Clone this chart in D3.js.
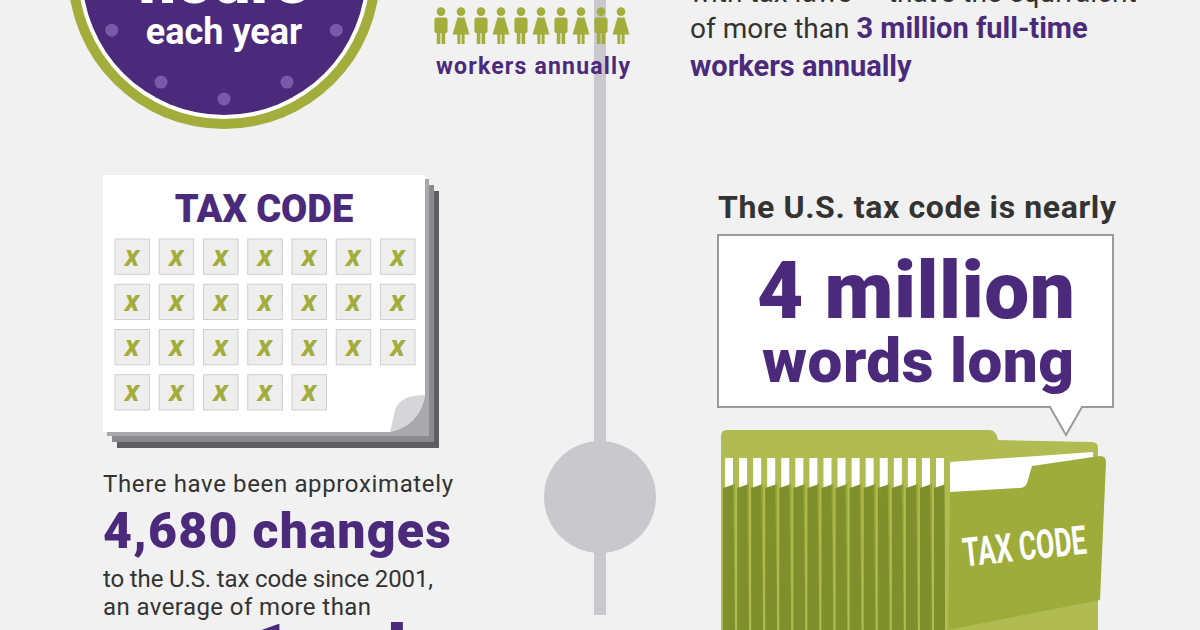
<!DOCTYPE html>
<head>
<meta charset="utf-8">
<title>Tax Code Infographic</title>
<style>
  body { margin: 0; background: #f1f1f1; }
  svg { display: block; }
  text { font-family: Roboto, "Liberation Sans", sans-serif; }
</style>
<script src="https://cdn.jsdelivr.net/npm/d3@7"></script>
</head>
<body>
<script>
// values
var peopleKinds = ["m", "f", "m", "f", "m", "f", "m", "f", "m", "f"];
var checkRows = [7, 7, 7, 5];
var folderCount = 16;
var leftLines = ["There have been approximately", "4,680 changes", "to the U.S. tax code since 2001,", "an average of more than"];
var bubbleLines = ["4 million", "words long"];
var dotAngles = [27, 60, 90, 120, 153];

var purple = "#4b2a7b", green = "#a2ad3c", grey = "#c9c9cd", ink = "#333";
var W = 1200, H = 630;

var svg = d3.select("body").append("svg").attr("width", W).attr("height", H);
svg.append("rect").attr("width", W).attr("height", H).attr("fill", "#f1f1f1");

// ---- centre timeline
svg.append("rect").attr("x", 594).attr("y", 0).attr("width", 12).attr("height", 450).attr("fill", grey);
svg.append("rect").attr("x", 594).attr("y", 540).attr("width", 12).attr("height", 75).attr("fill", grey);
svg.append("circle").attr("cx", 600).attr("cy", 497).attr("r", 56).attr("fill", grey);

// ---- clock badge
var badge = svg.append("g").attr("transform", "translate(224,-27)");
badge.append("circle").attr("r", 156).attr("fill", green);
badge.append("circle").attr("r", 146).attr("fill", "#fff");
badge.append("circle").attr("r", 142).attr("fill", purple);
badge.selectAll("circle.dot").data(dotAngles).enter().append("circle")
  .attr("class", "dot").attr("r", 6.5).attr("fill", "#7a5aa8")
  .attr("cx", function (a) { return 126 * Math.cos(a * Math.PI / 180); })
  .attr("cy", function (a) { return 126 * Math.sin(a * Math.PI / 180); });
badge.append("text").attr("y", 30).attr("text-anchor", "middle").attr("fill", "#fff")
  .attr("font-size", 66).attr("font-weight", 900).text("hours");
badge.append("text").attr("y", 71).attr("text-anchor", "middle").attr("fill", "#fff")
  .attr("font-size", 36).attr("font-weight", 700).text("each year");

// ---- people icons
var px = d3.scaleBand().domain(d3.range(peopleKinds.length)).range([431, 631]);
function person(g, kind) {
  g.append("circle").attr("cx", 0).attr("cy", 3).attr("r", 3.6).attr("fill", green);
  if (kind === "m") {
    g.append("rect").attr("x", -5.5).attr("y", 8).attr("width", 11).attr("height", 13).attr("rx", 2).attr("fill", green);
    g.append("rect").attr("x", -3.5).attr("y", 19).attr("width", 3).attr("height", 11).attr("fill", green);
    g.append("rect").attr("x", 0.5).attr("y", 19).attr("width", 3).attr("height", 11).attr("fill", green);
  } else {
    g.append("path").attr("d", "M-3,8 L3,8 L7,22 L-7,22 Z").attr("fill", green);
    g.append("rect").attr("x", -3).attr("y", 21).attr("width", 2.5).attr("height", 9).attr("fill", green);
    g.append("rect").attr("x", 0.5).attr("y", 21).attr("width", 2.5).attr("height", 9).attr("fill", green);
  }
}
[-40, 8].forEach(function (top) {
  peopleKinds.forEach(function (k, i) {
    person(svg.append("g").attr("transform", "translate(" + (px(i) + px.bandwidth() / 2) + "," + top + ") scale(1.2)"), k);
  });
});
svg.append("text").attr("x", 533).attr("y", 74).attr("text-anchor", "middle").attr("fill", purple)
  .attr("font-size", 23).attr("font-weight", 700).attr("textLength", 194).text("workers annually");

// ---- top-right copy
var tr = svg.append("text").attr("x", 690).attr("font-size", 28).attr("fill", ink);
tr.append("tspan").attr("x", 690).attr("y", 2).text("with tax laws \u2014 that\u2019s the equivalent");
var l2 = tr.append("tspan").attr("x", 690).attr("y", 38);
l2.append("tspan").text("of more than ");
l2.append("tspan").attr("fill", purple).attr("font-weight", 700).attr("font-size", 29).text("3 million full-time");
tr.append("tspan").attr("x", 690).attr("y", 76).attr("fill", purple).attr("font-weight", 700).attr("font-size", 29).text("workers annually");

// ---- tax code document
var doc = svg.append("g");
[["#5e5e62", 14, 16], ["#8a8a8e", 9, 10], ["#a9a9ad", 4, 4]].forEach(function (s) {
  doc.append("rect").attr("x", 103 + s[1]).attr("y", 175 + s[2]).attr("width", 322).attr("height", 257).attr("fill", s[0]);
});
doc.append("path").attr("d", "M103,175 L425,175 L425,395 Q420,425 390,432 L103,432 Z").attr("fill", "#fff");
doc.append("path").attr("d", "M425,395 Q400,395 395,410 Q392,425 390,432 Q420,425 425,395 Z").attr("fill", "#d6d6d8");
doc.append("text").attr("x", 264).attr("y", 222).attr("text-anchor", "middle").attr("fill", purple)
  .attr("font-size", 38).attr("font-weight", 900).text("TAX CODE");
var cx = d3.scaleBand().domain(d3.range(7)).range([115, 415]).paddingInner(0.22);
var cy = d3.scaleBand().domain(d3.range(checkRows.length)).range([239, 410]).paddingInner(0.22);
checkRows.forEach(function (n, r) {
  d3.range(n).forEach(function (c) {
    doc.append("rect").attr("x", cx(c)).attr("y", cy(r)).attr("width", cx.bandwidth()).attr("height", cy.bandwidth())
      .attr("fill", "#eeeeee").attr("stroke", "#cfcfcf");
    doc.append("text").attr("x", cx(c) + cx.bandwidth() / 2).attr("y", cy(r) + cy.bandwidth() / 2 + 9)
      .attr("text-anchor", "middle").attr("fill", green).attr("font-size", 30)
      .attr("font-style", "italic").attr("font-weight", 700).attr("font-family", "'DejaVu Serif', serif").text("x");
  });
});

// ---- bottom-left copy
var ly = [492, 548, 587, 615];
var lw = [350, 348, 330, 268];
leftLines.forEach(function (t, i) {
  svg.append("text").attr("x", 103).attr("y", ly[i]).text(t)
    .attr("fill", i === 1 ? purple : ink)
    .attr("font-size", i === 1 ? 50 : 24)
    .attr("font-weight", i === 1 ? 900 : 400)
    .attr("textLength", lw[i]);
});
svg.append("text").attr("x", 250).attr("y", 676).attr("fill", purple).attr("font-size", 72).attr("font-weight", 900).text("1 a day");

// ---- right: bubble
svg.append("text").attr("x", 917).attr("y", 218).attr("text-anchor", "middle").attr("fill", ink)
  .attr("font-size", 32).attr("font-weight", 700).attr("textLength", 398).text("The U.S. tax code is nearly");
svg.append("path").attr("d", "M718,235 L1113,235 L1113,407 L1082,407 L1066,435 L1050,407 L718,407 Z")
  .attr("fill", "#fff").attr("stroke", "#9a9a9a").attr("stroke-width", 2);
svg.append("text").attr("x", 916).attr("y", 318).attr("text-anchor", "middle").attr("fill", purple)
  .attr("font-size", 80).attr("font-weight", 900).attr("textLength", 318).text(bubbleLines[0]);
svg.append("text").attr("x", 918).attr("y", 382).attr("text-anchor", "middle").attr("fill", purple)
  .attr("font-size", 62).attr("font-weight", 900).attr("textLength", 312).text(bubbleLines[1]);

// ---- folders
var fx = d3.scaleLinear().domain([0, folderCount - 1]).range([721, 932]);
var folders = svg.append("g");
d3.range(folderCount).forEach(function (i) {
  var x = fx(i);
  var g = folders.append("g").attr("transform", "translate(" + x + ",0)");
  g.append("path").attr("d", "M0,436 Q0,430 6,430 L26,430 Q30,430 30,436 L30,630 L0,630 Z").attr("fill", "#b0bc52");
  g.append("rect").attr("x", 4).attr("y", 458).attr("width", 8).attr("height", 30).attr("fill", "#fff");
  g.append("path").attr("d", "M2,488 L14,484 L16,630 L2,630 Z").attr("fill", "#7f8f2c");
  g.append("path").attr("d", "M12,484 L30,480 L30,630 L14,630 Z").attr("fill", "#98a738");
});
// front folder
folders.append("path").attr("d", "M945,436 Q945,430 951,430 L990,430 Q996,430 998,440 L1092,442 Q1098,442 1098,448 L1098,630 L945,630 Z")
  .attr("fill", "#b0bc52");
folders.append("path").attr("d", "M950,462 L1093,452 L1093,490 L950,500 Z").attr("fill", "#fff");
folders.append("path").attr("d", "M950,492 L1020,488 Q1026,488 1028,480 L1032,466 L1100,456 Q1106,456 1106,462 L1100,600 L948,630 Z")
  .attr("fill", "#9eac3b");
folders.append("text").attr("transform", "translate(1026,560) rotate(-6)").attr("text-anchor", "middle")
  .attr("fill", "#fff").attr("font-size", 40).attr("font-weight", 700)
  .attr("font-family", "'Liberation Sans Narrow', 'Roboto Condensed', 'Liberation Sans', sans-serif")
  .attr("textLength", 124).attr("lengthAdjust", "spacingAndGlyphs").text("TAX CODE");
</script>
</body>
